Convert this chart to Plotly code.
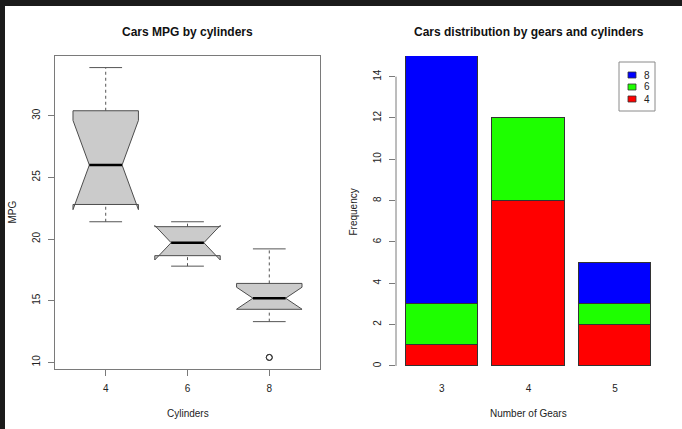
import plotly.graph_objects as go

# ---------------- data ----------------
# Left panel: MPG by cylinders (notched box statistics)
cyl_labels = ["4", "6", "8"]
mpg_q1 = [22.8, 18.65, 14.3]
mpg_median = [26.0, 19.7, 15.2]
mpg_q3 = [30.4, 21.0, 16.4]
mpg_whisker_low = [21.4, 17.8, 13.3]
mpg_whisker_high = [33.9, 21.4, 19.2]
mpg_notch_low = [22.38, 18.30, 14.31]
mpg_notch_high = [29.62, 21.10, 16.09]
outlier_cyl = ["8", "8"]
outlier_mpg = [10.4, 10.4]
mpg_ticks = [10, 15, 20, 25, 30]

# Right panel: cars by gears and cylinders (stacked counts)
gear_labels = ["3", "4", "5"]
series_names = ["4", "6", "8"]
count_cyl4 = [1, 8, 2]
count_cyl6 = [2, 4, 1]
count_cyl8 = [12, 0, 2]
series_colors = ["#ff0000", "#1eff00", "#0000ff"]
freq_ticks = [0, 2, 4, 6, 8, 10, 12, 14]

# ---------------- layout helpers ----------------
WIN_W, WIN_H = 682, 429
OFF_X, OFF_Y = 5, 6          # dark window frame on the left / top
W, H = WIN_W - OFF_X, WIN_H - OFF_Y
FONT = "Liberation Sans, Arial, Helvetica, sans-serif"


def px(x):
    return (x - OFF_X) / W


def py(y):
    return 1 - (y - OFF_Y) / H


fig = go.Figure()

# ---------------- left: notched boxplots ----------------
box_half = 0.4
notch_frac = 0.5
positions = [i + 1 for i in range(len(cyl_labels))]
for i, pos in enumerate(positions):
    q1, md, q3 = mpg_q1[i], mpg_median[i], mpg_q3[i]
    nl, nh = mpg_notch_low[i], mpg_notch_high[i]
    hw = box_half
    xs = [pos - hw, pos + hw, pos + hw, pos + hw * notch_frac, pos + hw, pos + hw,
          pos - hw, pos - hw, pos - hw * notch_frac, pos - hw, pos - hw]
    ys = [q1, q1, nl, md, nh, q3, q3, nh, md, nl, q1]
    # whiskers (dashed)
    fig.add_trace(go.Scatter(
        x=[pos, pos, None, pos, pos],
        y=[mpg_whisker_low[i], q1, None, q3, mpg_whisker_high[i]],
        mode="lines", line=dict(color="#555555", width=1, dash="3px,3px"),
        xaxis="x", yaxis="y", hoverinfo="skip", showlegend=False))
    # staples
    sw = hw * 0.5
    fig.add_trace(go.Scatter(
        x=[pos - sw, pos + sw, None, pos - sw, pos + sw],
        y=[mpg_whisker_low[i], mpg_whisker_low[i], None,
           mpg_whisker_high[i], mpg_whisker_high[i]],
        mode="lines", line=dict(color="#555555", width=1),
        xaxis="x", yaxis="y", hoverinfo="skip", showlegend=False))
    # box
    fig.add_trace(go.Scatter(
        x=xs, y=ys, mode="lines", fill="toself", fillcolor="#cbcbcb",
        line=dict(color="#4d4d4d", width=1),
        xaxis="x", yaxis="y", hoverinfo="skip", showlegend=False))
    # median
    fig.add_trace(go.Scatter(
        x=[pos - hw * notch_frac, pos + hw * notch_frac], y=[md, md],
        mode="lines", line=dict(color="#000000", width=2.5),
        xaxis="x", yaxis="y", hoverinfo="skip", showlegend=False))

fig.add_trace(go.Scatter(
    x=[cyl_labels.index(c) + 1 for c in outlier_cyl], y=outlier_mpg,
    mode="markers",
    marker=dict(symbol="circle-open", size=6, color="#333333", line=dict(width=1)),
    xaxis="x", yaxis="y", hoverinfo="skip", showlegend=False))

# ---------------- right: stacked bars ----------------
bar_width = 1.0
bar_space = 0.2
centers = [bar_space * (i + 1) + bar_width * (i + 0.5) for i in range(len(gear_labels))]
right_edge = (bar_space + bar_width) * len(gear_labels)
xr_span = right_edge - bar_space
x2_range = [bar_space - 0.04 * xr_span, right_edge + 0.04 * xr_span]

for name, vals, col in zip(series_names, [count_cyl4, count_cyl6, count_cyl8], series_colors):
    fig.add_trace(go.Bar(
        x=centers, y=vals, width=bar_width, name=name,
        marker=dict(color=col, line=dict(color="#333333", width=1)),
        xaxis="x2", yaxis="y2", showlegend=False, hoverinfo="skip"))

# ---------------- axes ----------------
ydom = [py(369), py(56)]
axis_col = "#7a7a7a"
tick_font = dict(family=FONT, size=10, color="#222222")

fig.update_layout(
    width=W, height=H, autosize=False,
    margin=dict(l=0, r=0, t=0, b=0, pad=0),
    paper_bgcolor="#ffffff", plot_bgcolor="#ffffff",
    barmode="stack", bargap=0,
    xaxis=dict(domain=[px(55), px(320)], range=[0.38, 3.62], anchor="y",
               tickvals=positions, ticktext=cyl_labels, ticks="outside", ticklen=6,
               tickcolor=axis_col, showline=True, mirror=True, linecolor=axis_col,
               linewidth=1, showgrid=False, zeroline=False, tickfont=tick_font,
               ticklabelstandoff=4),
    yaxis=dict(domain=ydom, range=[9.46, 34.84], anchor="x",
               tickvals=mpg_ticks, ticks="outside", ticklen=6, tickangle=-90,
               tickcolor=axis_col, showline=True, mirror=True, linecolor=axis_col,
               linewidth=1, showgrid=False, zeroline=False, tickfont=tick_font,
               ticklabelstandoff=4),
    xaxis2=dict(domain=[px(396), px(661)], range=x2_range, anchor="y2",
                tickvals=centers, ticktext=gear_labels, ticks="outside", ticklen=6,
                tickcolor="rgba(0,0,0,0)", showline=False, showgrid=False,
                zeroline=False, tickfont=tick_font, ticklabelstandoff=4),
    yaxis2=dict(domain=ydom, range=[-0.15, 15], anchor="x2",
                tickvals=freq_ticks, ticks="outside", ticklen=6, tickangle=-90,
                tickcolor=axis_col, showline=False, showgrid=False, zeroline=False,
                tickfont=tick_font, ticklabelstandoff=4),
)

shapes = [
    # right y axis line (first to last tick)
    dict(type="line", xref="x2 domain", yref="y2", x0=0, x1=0,
         y0=freq_ticks[0], y1=freq_ticks[-1], line=dict(color=axis_col, width=1)),
    # legend box
    dict(type="rect", xref="paper", yref="paper", x0=px(619), x1=px(655),
         y0=py(111), y1=py(62), fillcolor="#ffffff",
         line=dict(color="#8a8a8a", width=1)),
]


def label(text, x, y, size=10, bold=False, angle=0):
    f = dict(family=FONT, size=size, color="#111111" if bold else "#222222")
    if bold:
        f["weight"] = "bold"
    return dict(text=text, x=px(x), y=py(y), xref="paper", yref="paper",
                xanchor="center", yanchor="middle", textangle=angle,
                showarrow=False, font=f)


annotations = [
    label("Cars MPG by cylinders", 187.5, 32, size=12, bold=True),
    label("Cars distribution by gears and cylinders", 528.5, 32, size=12, bold=True),
    label("Cylinders", 187.5, 413),
    label("Number of Gears", 528.5, 413),
    label("MPG", 12, 212.5, angle=-90),
    label("Frequency", 353, 212.5, angle=-90),
]

# legend entries (top to bottom: reversed stacking order)
legend_rows = [75, 87, 99]
for row_y, name, col in zip(legend_rows, series_names[::-1], series_colors[::-1]):
    shapes.append(dict(type="rect", xref="paper", yref="paper",
                       x0=px(628), x1=px(636), y0=py(row_y + 3), y1=py(row_y - 3),
                       fillcolor=col, line=dict(color="#333333", width=0.8)))
    annotations.append(label(name, 647, row_y))

fig.update_layout(shapes=shapes, annotations=annotations)

fig.write_html(
    "out.html",
    config={"displayModeBar": False},
    post_script=(
        "document.documentElement.style.background='#1b1b1b';"
        "document.body.style.margin='0';"
        "document.body.style.background='#1b1b1b';"
        "document.body.style.overflow='hidden';"
        "var d=document.getElementById('{plot_id}');"
        "d.style.marginLeft='%dpx';d.style.marginTop='%dpx';" % (OFF_X, OFF_Y)
    ),
)
